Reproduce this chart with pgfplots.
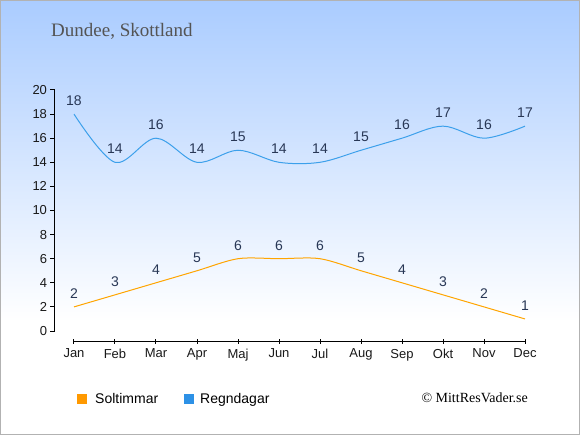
\documentclass[border=0pt]{standalone}
\usepackage{pgfplots}
\pgfplotsset{compat=1.18}
\usepackage{fontspec}
\setmainfont{Liberation Sans}
\newfontfamily\seriffont{Liberation Serif}
\definecolor{bgtop}{RGB}{170,204,255}
\definecolor{sunc}{RGB}{255,165,0}
\definecolor{rainc}{RGB}{60,160,235}
\definecolor{lab}{RGB}{40,55,85}
\definecolor{sunsq}{RGB}{255,153,0}
\definecolor{rainsq}{RGB}{45,145,230}
\begin{document}
\begin{tikzpicture}
\shade[top color=bgtop, bottom color=white] (-74bp,10bp) rectangle (506bp,331bp);
\fill[white] (-74bp,-104bp) rectangle (506bp,10bp);
\draw[gray!60, line width=1bp] (-73.5bp,-103.5bp) rectangle (505.5bp,330.5bp);
\node[anchor=base west, font=\seriffont\fontsize{19bp}{21bp}\selectfont, text=black!67, inner sep=0pt] at (-23bp,294bp) {Dundee, Skottland};
\begin{axis}[
  scale only axis, width=451bp, height=241bp,
  xmin=0, xmax=11, ymin=0, ymax=20,
  axis x line*=bottom, axis y line*=left,
  axis x line shift=10bp, axis y line shift=19bp,
  axis line style={black, line width=1bp, -},
  xtick={0,...,11},
  xticklabels={Jan,Feb,Mar,Apr,Maj,Jun,Jul,Aug,Sep,Okt,Nov,Dec},
  ytick={0,2,...,20},
  tick align=outside,
  major tick length=4.5bp,
  tick style={black, line width=1bp},
  x tick style={yshift=2bp},
  ticklabel style={font=\fontsize{13bp}{15bp}\selectfont, text=black!90},
  /pgf/number format/assume math mode=true,
  clip=false,
  nodes near coords,
  every node near coord/.append style={font=\fontsize{14bp}{16bp}\selectfont, text=lab, inner sep=0pt, anchor=base, yshift=8.5bp},
]
\addplot[sunc, line width=1bp, smooth, tension=0.5, no markers] coordinates {
(0,2) (1,3) (2,4) (3,5) (4,6) (5,6) (6,6) (7,5) (8,4) (9,3) (10,2) (11,1)};
\addplot[rainc, line width=1bp, smooth, tension=0.55, no markers] coordinates {
(0,18) (1,14) (2,16) (3,14) (4,15) (5,14) (6,14) (7,15) (8,16) (9,17) (10,16) (11,17)};
\end{axis}
\fill[sunsq] (3bp,-73bp) rectangle (13bp,-63bp);
\node[anchor=base west, inner sep=0pt, font=\fontsize{14bp}{16bp}\selectfont] at (21bp,-72bp) {Soltimmar};
\fill[rainsq] (110bp,-73bp) rectangle (120bp,-63bp);
\node[anchor=base west, inner sep=0pt, font=\fontsize{14bp}{16bp}\selectfont] at (126bp,-72bp) {Regndagar};
\node[anchor=base east, inner sep=0pt, font=\seriffont\fontsize{14bp}{16bp}\selectfont] at (454bp,-71bp) {© MittResVader.se};
\end{tikzpicture}
\end{document}
